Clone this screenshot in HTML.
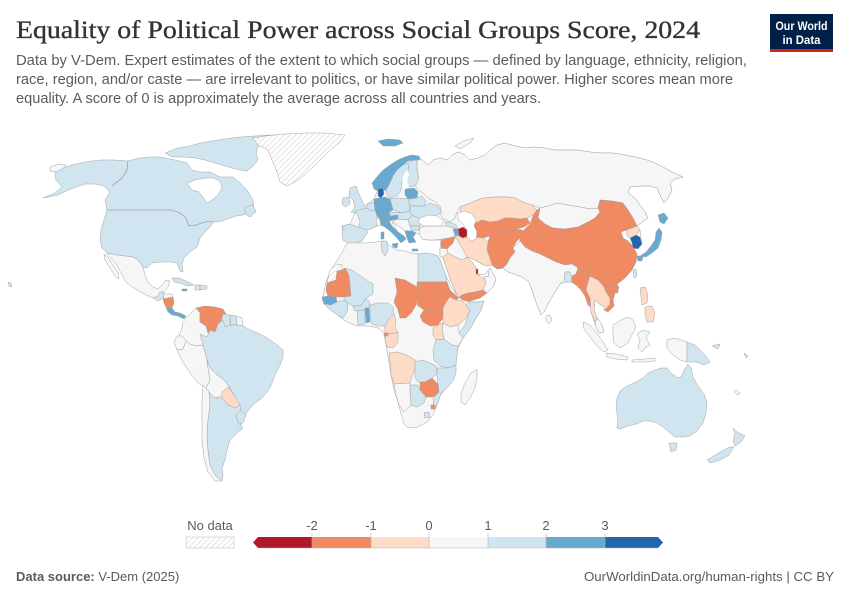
<!DOCTYPE html>
<html><head><meta charset="utf-8">
<style>
html,body{margin:0;padding:0;background:#fff;}
svg{display:block;}
.m polygon{stroke:#a3a3a3;stroke-width:0.5;stroke-linejoin:round;}
.A{fill:#b2182b}.B{fill:#ef8a62}.C{fill:#fddbc7}.D{fill:#f6f6f6}.E{fill:#d1e5f0}.F{fill:#67a9cf}.G{fill:#2166ac}.H{fill:url(#h)}
.W{fill:#fff}
text{font-family:"Liberation Sans",Arial,sans-serif;}
</style></head>
<body>
<svg width="850" height="600" viewBox="0 0 850 600" xmlns="http://www.w3.org/2000/svg">
<defs>
<pattern id="h" patternUnits="userSpaceOnUse" width="4" height="4" patternTransform="rotate(45)">
<rect width="4" height="4" fill="#fff"/><line x1="0" y1="0" x2="0" y2="4" stroke="#dcdcdc" stroke-width="1.6"/>
</pattern>
</defs>
<rect width="850" height="600" fill="#fff"/>

<!-- Header -->
<text x="16" y="38" style="font-family:'Liberation Serif',serif" font-size="25" fill="#333" stroke="#333" stroke-width="0.35" textLength="684" lengthAdjust="spacingAndGlyphs">Equality of Political Power across Social Groups Score, 2024</text>
<text x="16" y="65" font-size="14.5" fill="#5b5b5b" textLength="731" lengthAdjust="spacingAndGlyphs">Data by V-Dem. Expert estimates of the extent to which social groups — defined by language, ethnicity, religion,</text>
<text x="16" y="84" font-size="14.5" fill="#5b5b5b" textLength="717" lengthAdjust="spacingAndGlyphs">race, region, and/or caste — are irrelevant to politics, or have similar political power. Higher scores mean more</text>
<text x="16" y="103" font-size="14.5" fill="#5b5b5b" textLength="525" lengthAdjust="spacingAndGlyphs">equality. A score of 0 is approximately the average across all countries and years.</text>

<!-- Logo -->
<rect x="770" y="14" width="63" height="38" fill="#002147"/>
<rect x="770" y="49" width="63" height="3" fill="#ce261e"/>
<text x="801.5" y="30" font-size="11.5" font-weight="bold" fill="#fff" text-anchor="middle" textLength="52" lengthAdjust="spacingAndGlyphs">Our World</text>
<text x="801.5" y="44" font-size="11.5" font-weight="bold" fill="#fff" text-anchor="middle" textLength="38" lengthAdjust="spacingAndGlyphs">in Data</text>

<!-- Map -->
<g class="m">
<polygon class="D" points="343,240 342,226 350,224 355,213 360,209 367,204 374,199 378,189 372,183 377,177 382,171 390,165 398,160 405,157 412,155 420,158 428,165 433,160 440,158 447,160 452,155 458,152 465,155 470,160 478,158 485,155 490,150 497,145 505,143 515,146 525,148 535,147 545,148 555,150 565,150 577,150 590,152 600,153 613,153 625,155 635,157 647,160 655,163 663,167 672,172 683,177 675,179 670,183 672,190 668,198 664,203 660,195 657,188 650,186 640,186 630,187 628,193 635,198 640,205 645,212 648,218 642,222 637,226 640,230 642,244 638,249 630,238 626,230 621,232 623,238 628,241 633,246 637,254 636,262 632,270 625,278 617,284 619,288 615,293 613,300 614,306 608,312 604,310 604,307 598,303 595,300 594,310 597,318 602,325 604,332 599,333 596,327 591,312 592,308 588,305 585,296 581,290 576,285 571,282 566,282 560,284 555,292 549,302 544,312 541,315 537,305 533,293 529,282 522,277 514,274 508,272 503,268 497,269 492,265 486,266 480,263 473,259 467,257 472,262 476,268 478,274 484,277 489,276 488,270 490,268 496,279 493,287 487,293 480,298 470,301 463,303 458,298 455,290 451,281 447,270 443,258 440,256 440,248 441,240 435,240 428,240 422,239 419,234 416,233 413,237 416,242 409,243 407,238 405,231 400,227 392,222 398,232 404,236 406,239 401,243 397,238 390,231 385,227 381,225 377,226 371,229 364,230 368,232 365,236 362,241 354,243 348,243"/>
<polygon class="D" points="417,160 420,158 428,165 433,160 440,158 447,160 452,155 458,152 465,155 470,160 478,158 485,155 490,150 497,145 505,143 515,146 525,148 535,147 545,148 555,150 565,150 577,150 590,152 600,153 613,153 625,155 635,157 647,160 655,163 663,167 672,172 683,177 675,179 670,183 672,190 668,198 664,203 660,195 657,188 650,186 640,186 630,187 628,193 635,198 640,205 645,212 648,218 642,222 637,226 633,218 628,210 623,203 612,201 600,200 598,208 590,209 580,207 568,205 557,203 548,206 540,208 532,205 525,203 515,198 507,197 495,197 483,198 475,201 468,204 460,207 457,212 455,218 450,222 444,219 440,214 441,207 435,202 428,198 423,193 418,190 415,185 418,175 417,168"/>
<polygon class="D" points="455,146 463,141 474,138 470,143 460,149"/>
<polygon class="D" points="50,167 58,164 66,165 65,170 57,172 50,171"/>
<polygon class="C" points="460,207 468,204 475,201 483,198 495,197 507,197 515,198 525,203 532,205 537,210 533,215 527,218 520,219 512,218 505,218 498,221 490,222 482,220 476,223 470,222 466,217 461,213"/>
<polygon class="B" points="466,217 470,222 476,223 482,220 490,222 498,221 505,218 512,218 520,219 527,218 530,223 524,227 516,229 510,231 503,233 496,233 490,236 483,238 476,237 470,235 470,228"/>
<polygon class="B" points="490,236 496,233 503,233 510,231 516,229 522,230 526,234 520,238 516,242 513,248 515,252 510,258 507,264 503,268 497,269 492,265 490,258 487,250 488,242"/>
<polygon class="C" points="455,236 460,236 466,238 470,235 476,237 483,238 488,242 487,250 490,258 492,265 486,266 480,263 473,259 467,257 462,251 458,245 455,240"/>
<polygon class="D" points="420,228 425,226 432,226 440,226 447,226 453,227 457,230 455,236 449,238 442,239 435,240 428,240 422,239 419,234"/>
<polygon class="E" points="445,222 450,222 456,225 458,229 453,228 447,226"/>
<polygon class="F" points="453,229 458,229 459,235 455,236"/>
<polygon class="A" points="458,229 463,227 467,230 468,236 463,238 459,236"/>
<polygon class="B" points="441,240 449,238 455,237 453,243 447,249 442,250 441,245"/>
<polygon class="D" points="453,243 455,237 458,241 462,248 467,257 462,260 455,257 448,253 447,249"/>
<polygon class="D" points="440,248 447,249 448,253 444,258 440,256"/>
<polygon class="C" points="443,258 444,256 448,253 455,257 462,260 467,257 472,262 476,268 478,274 484,277 486,283 483,290 475,292 468,293 462,295 458,298 455,290 451,281 447,270"/>
<polygon class="A" points="476,269 478,269 478,274 476,274"/>
<polygon class="D" points="478,275 485,274 488,270 489,276 484,279"/>
<polygon class="D" points="488,270 490,268 496,279 493,287 487,293 483,290 486,283 484,277 489,276"/>
<polygon class="B" points="458,298 462,295 468,293 475,292 483,290 487,293 480,298 470,301 463,303"/>
<polygon class="D" points="540,208 548,206 557,203 568,205 580,207 590,209 598,208 600,212 595,218 588,222 578,227 565,229 553,228 545,224 538,218"/>
<polygon class="B" points="520,236 524,230 530,224 533,216 537,210 540,208 538,218 545,224 553,228 565,229 578,227 588,222 595,218 600,212 598,208 600,200 612,201 623,203 628,210 633,218 637,226 632,228 626,230 621,232 623,238 628,241 633,246 637,254 636,262 632,270 625,278 617,284 610,287 604,285 598,280 590,276 584,270 578,268 572,264 565,265 556,262 548,258 540,254 532,251 525,247 520,241"/>
<polygon class="D" points="513,248 520,241 525,247 532,251 540,254 548,258 556,262 565,265 572,264 578,268 576,274 572,276 570,272 565,272 565,279 560,284 555,292 549,302 544,312 541,315 537,305 533,293 529,282 522,277 514,274 508,272 503,268 507,264 510,258 515,252"/>
<polygon class="E" points="565,272 570,272 572,276 571,282 566,282 564,278"/>
<polygon class="D" points="546,316 550,315 552,320 549,324 546,321"/>
<polygon class="B" points="572,276 576,274 578,268 584,270 590,276 588,282 586,290 590,298 592,308 588,305 585,296 581,290 576,285 572,282"/>
<polygon class="C" points="588,282 590,276 598,280 604,285 606,292 610,298 610,305 604,307 598,303 595,300 594,310 597,318 595,322 591,312 590,298 586,290"/>
<polygon class="B" points="598,280 604,285 610,287 617,284 619,288 615,293 613,300 614,306 608,312 604,310 610,305 610,298 606,292 604,287"/>
<polygon class="B" points="614,290 618,289 618,293 614,293"/>
<polygon class="D" points="595,322 598,318 602,325 604,332 599,333 596,327"/>
<polygon class="C" points="626,230 632,228 637,226 640,230 636,235 630,238 627,236"/>
<polygon class="G" points="630,238 636,235 640,237 642,244 638,249 633,248 632,243"/>
<polygon class="F" points="640,256 646,252 651,246 655,240 656,232 659,228 662,232 661,240 658,248 652,253 646,257"/>
<polygon class="F" points="658,215 664,213 668,218 664,224 660,222"/>
<polygon class="F" points="637,256 643,256 642,261 638,261"/>
<polygon class="E" points="633,270 636,269 637,276 634,278"/>
<polygon class="C" points="640,288 645,287 648,295 647,303 642,305 641,297"/>
<polygon class="C" points="645,307 652,306 655,313 653,322 647,322 645,315"/>
<polygon class="D" points="583,322 590,325 597,333 603,342 608,350 604,352 597,346 590,337 584,329"/>
<polygon class="D" points="606,353 617,354 628,357 627,360 615,359 607,357"/>
<polygon class="D" points="613,325 621,320 628,317 633,320 636,327 632,335 628,343 620,348 614,343 613,335"/>
<polygon class="D" points="637,334 643,330 650,332 646,338 650,345 645,348 642,352 638,348 640,340"/>
<polygon class="D" points="667,340 675,338 687,342 687,362 680,360 672,354 667,348"/>
<polygon class="E" points="687,342 695,345 700,350 705,355 710,362 704,365 696,362 687,362"/>
<polygon class="D" points="632,360 645,359 655,358 655,361 645,362 632,362"/>
<polygon class="E" points="617,398 620,391 627,386 636,382 643,378 648,373 655,370 662,368 667,368 671,373 678,378 682,376 684,370 688,364 691,368 693,377 698,386 704,394 707,403 706,413 703,423 697,431 690,436 682,437 675,437 669,432 663,427 657,423 650,421 643,421 636,424 628,426 620,429 617,428 618,418 616,408"/>
<polygon class="E" points="669,443 677,443 676,450 671,452"/>
<polygon class="E" points="733,428 737,432 745,436 741,442 735,446 733,440 735,434"/>
<polygon class="E" points="730,447 734,447 729,455 720,460 710,463 707,460 715,455 724,450"/>
<polygon class="E" points="712,346 720,344 718,349"/>
<polygon class="E" points="744,353 748,356 746,358"/>
<polygon class="H" points="736,390 740,393 738,395 734,392"/>

<polygon class="D" points="349,240 358,243 367,243 376,242 384,241 390,246 397,250 405,251 412,253 418,254 425,253 432,254 438,256 440,260 443,268 447,278 451,286 456,294 462,300 470,302 478,302 484,301 481,310 475,320 470,329 463,338 458,348 456,358 455,368 452,378 446,388 440,396 437,405 433,415 427,422 418,427 408,428 404,424 401,414 398,402 394,390 391,375 389,362 387,350 385,340 384,333 378,328 368,326 357,326 347,322 340,317 333,311 327,305 322,300 324,292 326,282 330,272 336,262 341,254 345,247"/>
<polygon class="H" points="330,270 338,264 342,265 342,270 337,271 336,280 327,283"/>
<polygon class="B" points="327,283 336,280 337,271 342,270 345,268 349,275 350,285 351,296 344,297 336,297 328,296 326,290"/>
<polygon class="F" points="322,297 328,296 336,297 337,302 331,305 324,304"/>
<polygon class="E" points="345,268 352,270 362,277 373,284 373,294 366,298 361,306 353,306 348,303 344,300 344,297 351,296 350,285 349,275"/>
<polygon class="E" points="324,304 331,305 337,302 344,300 348,303 347,312 343,318 336,314 329,309"/>
<polygon class="E" points="353,306 361,306 366,298 370,302 369,308 360,311 354,310"/>
<polygon class="E" points="357,311 364,310 365,324 358,325"/>
<polygon class="F" points="365,308 369,308 370,322 366,323"/>
<polygon class="E" points="370,305 378,303 388,303 393,307 394,314 389,319 385,326 378,326 372,324 370,318"/>
<polygon class="E" points="381,241 387,241 388,250 385,256 382,252"/>
<polygon class="E" points="418,254 425,253 432,254 438,256 440,260 443,268 446,276 447,282 418,282"/>
<polygon class="B" points="395,278 405,280 417,287 418,297 416,305 412,312 406,318 400,318 398,310 394,302 397,292"/>
<polygon class="B" points="417,282 447,282 450,290 450,297 446,302 443,308 432,311 424,310 417,305 418,297 417,287"/>
<polygon class="B" points="450,290 453,293 459,298 456,300 450,297"/>
<polygon class="B" points="424,310 432,311 443,308 443,318 438,325 430,326 423,322 420,316"/>
<polygon class="C" points="446,302 450,297 456,300 462,301 466,305 470,310 466,318 458,325 450,327 443,323 443,315 443,308"/>
<polygon class="E" points="466,305 470,302 478,302 484,301 481,310 475,320 470,329 463,338 459,333 465,325 468,316 470,310"/>
<polygon class="D" points="443,323 450,327 458,325 459,333 463,338 458,346 452,345 444,339 442,330"/>
<polygon class="C" points="433,327 438,325 443,323 442,330 444,339 436,340 433,335"/>
<polygon class="E" points="436,340 444,339 452,345 458,346 457,356 456,365 448,368 440,366 434,360 433,350"/>
<polygon class="C" points="385,326 389,319 394,314 396,320 395,328 398,332 391,334 385,333"/>
<polygon class="C" points="385,333 391,334 398,332 398,342 393,348 387,347 385,340"/>
<polygon class="B" points="384,333 388,333 388,336 384,336"/>
<polygon class="C" points="389,353 397,352 404,354 410,357 415,360 415,369 412,376 410,383 394,384 391,375 390,362"/>
<polygon class="E" points="415,362 422,360 428,362 436,366 437,374 432,378 425,382 418,382 415,378 415,369"/>
<polygon class="B" points="420,382 425,382 432,378 438,384 439,392 433,397 426,397 420,390"/>
<polygon class="E" points="437,368 448,368 456,365 456,373 453,381 447,388 441,393 438,403 435,408 433,405 434,397 439,392 438,384 437,374"/>
<polygon class="E" points="410,385 418,385 420,390 426,397 424,403 417,407 411,405 410,395"/>
<polygon class="D" points="394,384 410,383 410,395 411,405 404,412 399,405 396,395"/>
<polygon class="B" points="431,405 435,405 435,409 431,409"/>
<polygon class="E" points="424,413 429,412 430,417 425,418"/>
<polygon class="D" points="471,373 477,369 477,378 475,388 470,398 465,405 461,402 461,394 464,385 468,378"/>

<polygon class="E" points="350,188 356,186 358,192 361,198 363,203 366,208 362,212 355,213 351,212 355,207 353,200 349,196"/>
<polygon class="E" points="343,198 349,197 350,204 345,207 342,204"/>
<polygon class="F" points="378,141 388,139 400,140 403,143 395,146 383,146"/>
<polygon class="F" points="372,183 377,177 382,171 390,165 398,160 405,157 412,155 419,156 420,160 414,160 408,161 403,165 397,170 393,176 390,183 386,190 380,192 374,189"/>
<polygon class="E" points="386,190 390,183 393,176 397,170 403,165 408,163 409,170 405,175 402,182 401,190 397,196 390,198 387,195"/>
<polygon class="E" points="408,163 414,160 417,161 417,170 419,178 416,185 410,187 405,182 405,175 409,170"/>
<polygon class="W" style="stroke:none" points="403,176 407,170 409,174 407,182 409,186 404,190 402,186"/>
<polygon class="G" points="378,189 383,188 384,194 381,198 378,196"/>
<polygon class="F" points="405,189 414,188 418,192 417,198 408,199 405,195"/>
<polygon class="E" points="390,199 398,198 408,199 410,205 409,211 402,213 393,210"/>
<polygon class="E" points="408,199 417,198 422,196 426,201 424,206 410,206"/>
<polygon class="E" points="410,206 424,206 430,203 438,206 442,212 436,216 428,217 422,220 416,217 410,214"/>
<polygon class="F" points="374,199 379,198 385,197 390,199 393,210 389,212 390,216 383,217 377,216 375,210 374,205"/>
<polygon class="E" points="367,204 374,202 375,210 371,211 367,208"/>
<polygon class="E" points="355,211 362,209 367,208 371,211 375,210 377,216 376,222 377,226 371,229 364,230 358,228 360,222 358,216"/>
<polygon class="F" points="377,216 383,217 390,216 398,215 398,219 389,221 380,220"/>
<polygon class="E" points="390,212 402,213 409,211 412,215 408,220 398,219 398,215 390,216"/>
<polygon class="E" points="408,220 412,215 416,217 422,220 420,226 410,226"/>
<polygon class="D" points="392,222 398,219 408,220 410,226 412,231 405,231 400,227"/>
<polygon class="E" points="410,226 420,226 419,230 412,231"/>
<polygon class="F" points="405,231 412,231 416,233 413,237 416,242 409,243 407,238"/>
<polygon class="F" points="380,220 389,221 392,226 398,232 404,236 406,239 401,243 397,238 390,231 385,227 381,225"/>
<polygon class="F" points="392,244 398,243 397,248 393,247"/>
<polygon class="F" points="381,232 384,232 384,239 381,239"/>
<polygon class="E" points="343,226 350,224 358,227 364,229 368,232 365,236 362,241 354,243 348,243 343,240 342,233"/>
<polygon class="F" points="412,249 418,249 418,251 412,251"/>
<polygon class="W" points="420,218 428,215 437,216 444,221 441,226 432,226 423,226 418,222"/>
<polygon class="W" points="458,213 465,211 472,214 476,220 474,226 477,232 476,239 471,241 467,237 467,230 463,224 458,219"/>

<polygon class="E" points="43,198 55,193 62,187 56,180 55,173 63,168 72,165 85,162 100,160 115,160 128,161 140,158 150,157 160,157 175,160 187,163 192,170 200,172 210,172 220,177 233,177 240,183 247,190 252,198 254,205 250,212 243,215 236,216 230,218 222,221 214,222 210,227 205,232 200,238 197,247 190,252 184,258 182,264 183,272 180,271 177,263 170,262 160,262 152,263 147,268 143,267 138,260 133,257 125,256 117,255 107,253 102,248 100,240 101,230 104,220 107,210 105,200 110,192 104,186 95,184 85,184 76,187 68,190 58,195"/>
<polygon class="E" points="165,153 178,148 190,146 200,143 212,141 225,139 240,137 255,136 270,135 278,135 268,141 258,146 256,153 258,160 253,166 247,171 240,170 232,168 225,166 215,163 205,160 195,158 183,157 172,157"/>
<polygon class="E" points="245,207 253,205 256,212 250,217 245,214"/>
<polygon class="W" points="187,183 195,180 205,178 213,178 220,181 222,188 218,195 212,200 207,203 203,197 199,192 192,190"/>
<polyline points="107,210 172,210 180,213 186,218 189,226 196,225 205,222 213,221" fill="none" stroke="#8a8a8a" stroke-width="0.6"/>
<polyline points="128,161 127,170 122,178 112,186" fill="none" stroke="#8a8a8a" stroke-width="0.6"/>
<polygon class="H" points="253,138 265,136 285,134 305,133 325,133 345,135 340,142 330,150 322,158 312,168 303,176 295,182 287,186 280,182 277,172 272,160 268,150 258,145"/>
<polygon class="E" points="8,282 11,283 12,287 9,286"/>
<polygon class="D" points="107,253 117,255 125,256 133,257 138,260 143,267 145,275 148,282 153,287 158,289 162,285 166,280 170,281 168,287 164,292 158,296 153,298 146,295 139,291 132,287 126,282 121,273 116,264 110,257"/>
<polygon class="D" points="104,254 108,257 113,265 118,273 119,279 115,276 110,268 105,260"/>
<polygon class="E" points="153,298 158,296 160,292 164,292 163,298 158,301"/>
<polygon class="D" points="163,294 172,294 173,298 164,300"/>
<polygon class="B" points="163,299 173,297 174,303 172,308 166,307 164,303"/>
<polygon class="F" points="166,307 172,308 175,312 180,313 186,316 184,319 178,316 172,315 168,312"/>
<polygon class="E" points="172,278 179,278 186,281 194,285 188,286 180,283 174,282"/>
<polygon class="F" points="182,289 187,289 187,291 182,291"/>
<polygon class="C" points="195,285 200,285 200,290 195,290"/>
<polygon class="E" points="200,285 207,286 207,289 200,290"/>
<polygon class="D" points="183,322 187,317 193,311 196,308 200,313 200,322 206,326 210,330 207,337 203,345 196,346 190,344 184,340 179,336 182,328"/>
<polygon class="B" points="196,308 205,306 215,307 223,309 226,314 223,320 218,324 215,332 208,333 206,326 200,322 200,313"/>
<polygon class="E" points="223,314 230,315 230,325 225,328 220,325"/>
<polygon class="E" points="230,315 236,316 237,325 231,325"/>
<polygon class="D" points="236,316 242,318 243,326 237,325"/>
<polygon class="D" points="177,336 182,336 186,341 183,349 177,350 174,342"/>
<polygon class="D" points="177,350 183,349 186,341 190,344 196,346 203,345 205,352 207,360 208,368 210,380 206,388 198,383 190,373 183,362 179,355"/>
<polygon class="E" points="200,334 207,337 210,330 215,332 218,324 223,320 225,327 230,325 237,325 243,326 250,330 258,333 267,338 276,344 283,350 283,357 280,365 275,375 270,388 262,398 253,405 247,412 243,420 240,428 237,425 244,415 240,408 236,398 230,388 224,380 216,374 210,368 207,360 205,352 203,345"/>
<polygon class="D" points="207,360 210,368 216,374 224,380 230,388 228,394 222,396 215,398 209,392 206,388 210,380 208,368"/>
<polygon class="C" points="222,392 228,387 232,392 236,398 240,405 235,408 228,405 222,398"/>
<polygon class="D" points="203,385 206,388 209,392 210,405 208,420 207,435 208,450 210,465 215,475 222,481 215,481 208,472 204,458 202,440 202,420 202,400"/>
<polygon class="E" points="209,392 215,398 222,398 228,405 235,408 240,405 241,410 236,415 238,422 243,428 237,433 230,440 227,450 225,460 222,468 223,476 222,481 215,475 210,465 208,450 207,435 208,420 210,405"/>
<polygon class="E" points="236,415 241,410 246,415 243,423 239,424 238,422"/>
</g>

<!-- Legend -->
<text x="210" y="530" font-size="13" fill="#5b5b5b" text-anchor="middle">No data</text>
<rect x="186" y="537" width="48" height="11" fill="url(#h)" stroke="#c8c8c8" stroke-width="0.6"/>
<g font-size="13" fill="#5b5b5b" text-anchor="middle">
<text x="312" y="530">-2</text>
<text x="371" y="530">-1</text>
<text x="429" y="530">0</text>
<text x="488" y="530">1</text>
<text x="546" y="530">2</text>
<text x="605" y="530">3</text>
</g>
<polygon points="258,537 253,542.5 258,548" fill="#b2182b"/>
<rect x="258" y="537" width="54" height="11" fill="#b2182b"/>
<rect x="312" y="537" width="59" height="11" fill="#ef8a62"/>
<rect x="371" y="537" width="58" height="11" fill="#fddbc7"/>
<rect x="429" y="537" width="59" height="11" fill="#f7f7f7"/>
<rect x="488" y="537" width="58" height="11" fill="#d1e5f0"/>
<rect x="546" y="537" width="59" height="11" fill="#67a9cf"/>
<rect x="605" y="537" width="53" height="11" fill="#2166ac"/>
<polygon points="658,537 663,542.5 658,548" fill="#2166ac"/>
<g stroke="#b5b5b5" stroke-width="0.6">
<line x1="312" y1="533" x2="312" y2="548"/>
<line x1="371" y1="533" x2="371" y2="548"/>
<line x1="429" y1="533" x2="429" y2="548"/>
<line x1="488" y1="533" x2="488" y2="548"/>
<line x1="546" y1="533" x2="546" y2="548"/>
<line x1="605" y1="533" x2="605" y2="548"/>
<line x1="258" y1="548" x2="658" y2="548"/>
</g>

<!-- Footer -->
<text x="16" y="581" font-size="13" fill="#5b5b5b"><tspan font-weight="bold">Data source:</tspan> V-Dem (2025)</text>
<text x="834" y="581" font-size="13" fill="#5b5b5b" text-anchor="end" textLength="250" lengthAdjust="spacingAndGlyphs">OurWorldinData.org/human-rights | CC BY</text>
</svg>
</body></html>
